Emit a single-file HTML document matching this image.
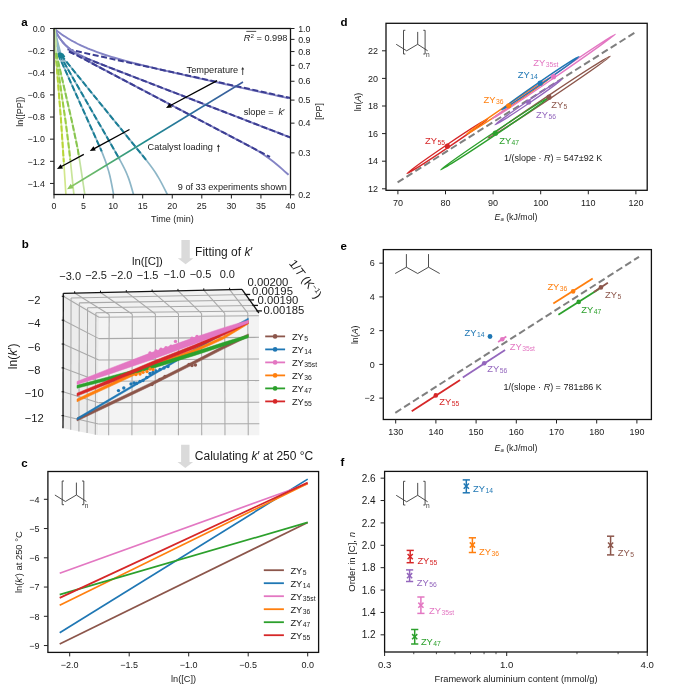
<!DOCTYPE html>
<html><head><meta charset="utf-8"><style>
html,body{margin:0;padding:0;background:#fff;}
svg{display:block;font-family:"Liberation Sans", sans-serif;will-change:transform;}
</style></head><body>
<svg width="685" height="684" viewBox="0 0 685 684">
<rect width="685" height="684" fill="#fff"/>
<text x="21.30" y="25.60" font-size="11.5" text-anchor="start" fill="#000" font-weight="bold" >a</text>
<path d="M54.50,29.00 C54.83,29.26 55.83,30.06 56.50,30.58 C57.17,31.10 57.83,31.60 58.50,32.09 C59.17,32.59 59.83,33.07 60.50,33.55 C61.17,34.02 61.83,34.48 62.50,34.94 C63.17,35.39 63.83,35.84 64.50,36.27 C65.17,36.71 65.83,37.13 66.50,37.55 C67.17,37.97 67.83,38.38 68.50,38.78 C69.17,39.18 69.83,39.58 70.50,39.96 C71.17,40.35 71.83,40.72 72.50,41.09 C73.17,41.46 73.83,41.83 74.50,42.18 C75.17,42.54 75.83,42.89 76.50,43.23 C77.17,43.57 77.83,43.91 78.50,44.24 C79.17,44.57 79.83,44.89 80.50,45.21 C81.17,45.52 81.83,45.84 82.50,46.14 C83.17,46.45 83.83,46.75 84.50,47.05 C85.17,47.34 85.83,47.63 86.50,47.92 C87.17,48.20 87.83,48.48 88.50,48.76 C89.17,49.04 89.17,49.06 90.50,49.57 C91.83,50.09 94.50,51.14 96.50,51.87 C98.50,52.61 100.50,53.31 102.50,53.98 C104.50,54.66 106.50,55.31 108.50,55.94 C110.50,56.57 112.50,57.18 114.50,57.77 C116.50,58.36 118.50,58.94 120.50,59.50 C122.50,60.06 124.50,60.61 126.50,61.15 C128.50,61.68 130.50,62.21 132.50,62.73 C134.50,63.25 136.50,63.75 138.50,64.26 C140.50,64.76 142.50,65.25 144.50,65.75 C146.50,66.24 148.50,66.72 150.50,67.20 C152.50,67.68 154.50,68.16 156.50,68.63 C158.50,69.10 160.50,69.57 162.50,70.04 C164.50,70.50 166.50,70.97 168.50,71.43 C170.50,71.89 172.50,72.35 174.50,72.81 C176.50,73.26 178.50,73.72 180.50,74.17 C182.50,74.63 184.50,75.08 186.50,75.53 C188.50,75.99 190.50,76.44 192.50,76.89 C194.50,77.34 196.50,77.79 198.50,78.24 C200.50,78.69 202.50,79.13 204.50,79.58 C206.50,80.03 208.50,80.48 210.50,80.92 C212.50,81.37 214.50,81.82 216.50,82.26 C218.50,82.71 220.50,83.15 222.50,83.60 C224.50,84.05 226.50,84.49 228.50,84.94 C230.50,85.38 232.50,85.83 234.50,86.27 C236.50,86.72 238.50,87.16 240.50,87.61 C242.50,88.05 244.50,88.49 246.50,88.94 C248.50,89.38 250.50,89.83 252.50,90.27 C254.50,90.72 256.50,91.16 258.50,91.60 C260.50,92.05 262.50,92.49 264.50,92.94 C266.50,93.38 268.50,93.82 270.50,94.27 C272.50,94.71 274.50,95.16 276.50,95.60 C278.50,96.04 280.50,96.49 282.50,96.93 C284.50,97.38 287.50,98.04 288.50,98.26" stroke="#8484c5" stroke-width="1.9" fill="none" />
<path d="M67.5,49.20 L290.5,98.00" stroke="#3b3d92" stroke-width="2.0" fill="none" stroke-dasharray="6,2.6"/>
<path d="M54.50,29.00 C54.83,29.66 55.83,31.75 56.50,32.98 C57.17,34.21 57.83,35.33 58.50,36.39 C59.17,37.44 59.83,38.40 60.50,39.31 C61.17,40.22 61.83,41.05 62.50,41.84 C63.17,42.63 63.83,43.36 64.50,44.05 C65.17,44.74 65.83,45.38 66.50,45.99 C67.17,46.60 67.83,47.16 68.50,47.71 C69.17,48.25 69.83,48.76 70.50,49.24 C71.17,49.73 71.83,50.19 72.50,50.64 C73.17,51.08 73.83,51.50 74.50,51.91 C75.17,52.32 75.83,52.71 76.50,53.09 C77.17,53.47 77.83,53.83 78.50,54.19 C79.17,54.55 79.83,54.89 80.50,55.23 C81.17,55.56 81.83,55.89 82.50,56.21 C83.17,56.53 83.83,56.84 84.50,57.15 C85.17,57.46 85.83,57.76 86.50,58.06 C87.17,58.36 87.83,58.66 88.50,58.95 C89.17,59.24 89.17,59.25 90.50,59.81 C91.83,60.37 94.50,61.48 96.50,62.30 C98.50,63.12 100.50,63.91 102.50,64.71 C104.50,65.50 106.50,66.29 108.50,67.07 C110.50,67.86 112.50,68.64 114.50,69.42 C116.50,70.20 118.50,70.98 120.50,71.75 C122.50,72.53 124.50,73.30 126.50,74.08 C128.50,74.86 130.50,75.63 132.50,76.40 C134.50,77.18 136.50,77.95 138.50,78.73 C140.50,79.50 142.50,80.28 144.50,81.05 C146.50,81.82 148.50,82.60 150.50,83.37 C152.50,84.15 154.50,84.92 156.50,85.70 C158.50,86.47 160.50,87.24 162.50,88.02 C164.50,88.79 166.50,89.57 168.50,90.34 C170.50,91.11 172.50,91.89 174.50,92.66 C176.50,93.44 178.50,94.21 180.50,94.98 C182.50,95.76 184.50,96.53 186.50,97.31 C188.50,98.08 190.50,98.85 192.50,99.63 C194.50,100.40 196.50,101.18 198.50,101.95 C200.50,102.72 202.50,103.50 204.50,104.27 C206.50,105.05 208.50,105.82 210.50,106.59 C212.50,107.37 214.50,108.14 216.50,108.92 C218.50,109.69 220.50,110.46 222.50,111.24 C224.50,112.01 226.50,112.79 228.50,113.56 C230.50,114.33 232.50,115.11 234.50,115.88 C236.50,116.66 238.50,117.43 240.50,118.20 C242.50,118.98 244.50,119.75 246.50,120.53 C248.50,121.30 250.50,122.07 252.50,122.85 C254.50,123.62 256.50,124.40 258.50,125.17 C260.50,125.94 262.50,126.72 264.50,127.49 C266.50,128.27 268.50,129.04 270.50,129.81 C272.50,130.59 274.50,131.36 276.50,132.14 C278.50,132.91 280.50,133.68 282.50,134.46 C284.50,135.23 287.50,136.39 288.50,136.78" stroke="#8484c5" stroke-width="1.9" fill="none" />
<path d="M69.0,51.83 L290.5,137.55" stroke="#3b3d92" stroke-width="2.0" fill="none" stroke-dasharray="6,2.6"/>
<path d="M54.50,29.00 C54.83,29.65 55.83,31.68 56.50,32.89 C57.17,34.10 57.83,35.22 58.50,36.27 C59.17,37.33 59.83,38.30 60.50,39.22 C61.17,40.15 61.83,41.00 62.50,41.81 C63.17,42.63 63.83,43.38 64.50,44.11 C65.17,44.83 65.83,45.50 66.50,46.15 C67.17,46.80 67.83,47.41 68.50,48.00 C69.17,48.59 69.83,49.14 70.50,49.68 C71.17,50.22 71.83,50.73 72.50,51.24 C73.17,51.74 73.83,52.21 74.50,52.68 C75.17,53.15 75.83,53.61 76.50,54.05 C77.17,54.49 77.83,54.92 78.50,55.35 C79.17,55.77 79.83,56.19 80.50,56.59 C81.17,57.00 81.83,57.40 82.50,57.80 C83.17,58.19 83.83,58.58 84.50,58.97 C85.17,59.35 85.83,59.74 86.50,60.11 C87.17,60.49 87.83,60.87 88.50,61.24 C89.17,61.61 89.17,61.62 90.50,62.35 C91.83,63.08 94.50,64.53 96.50,65.61 C98.50,66.69 100.50,67.75 102.50,68.81 C104.50,69.88 106.50,70.93 108.50,71.99 C110.50,73.05 112.50,74.10 114.50,75.16 C116.50,76.21 118.50,77.27 120.50,78.32 C122.50,79.37 124.50,80.42 126.50,81.48 C128.50,82.53 130.50,83.58 132.50,84.63 C134.50,85.69 136.50,86.74 138.50,87.79 C140.50,88.84 142.50,89.89 144.50,90.95 C146.50,92.00 148.50,93.05 150.50,94.10 C152.50,95.15 154.50,96.21 156.50,97.26 C158.50,98.31 160.50,99.36 162.50,100.41 C164.50,101.47 166.50,102.52 168.50,103.57 C170.50,104.62 172.50,105.67 174.50,106.73 C176.50,107.78 178.50,108.83 180.50,109.88 C182.50,110.93 184.50,111.99 186.50,113.04 C188.50,114.09 190.50,115.14 192.50,116.19 C194.50,117.25 196.50,118.30 198.50,119.35 C200.50,120.40 202.50,121.45 204.50,122.51 C206.50,123.56 208.50,124.61 210.50,125.66 C212.50,126.71 214.50,127.77 216.50,128.82 C218.50,129.87 220.50,130.92 222.50,131.97 C224.50,133.03 226.50,134.08 228.50,135.13 C230.50,136.18 232.50,137.23 234.50,138.29 C236.50,139.34 238.50,140.39 240.50,141.44 C242.50,142.49 244.50,143.54 246.50,144.60 C248.50,145.66 250.50,146.67 252.50,147.79 C254.50,148.91 256.50,150.07 258.50,151.31 C260.50,152.55 262.50,153.85 264.50,155.22 C266.50,156.59 268.50,158.03 270.50,159.53 C272.50,161.04 274.50,162.61 276.50,164.24 C278.50,165.88 280.50,167.58 282.50,169.34 C284.50,171.11 287.50,173.93 288.50,174.84" stroke="#8484c5" stroke-width="1.9" fill="none" />
<path d="M69.0,51.23 L270.0,156.96" stroke="#3b3d92" stroke-width="2.0" fill="none" stroke-dasharray="6,2.6"/>
<path d="M54.50,29.00 C55.25,33.50 57.69,50.21 59.00,56.00 C60.31,61.79 58.89,55.96 62.37,63.74 C65.84,71.52 73.29,88.09 79.85,102.70 C86.41,117.31 96.82,139.69 101.70,151.40 C106.58,163.11 107.17,165.77 109.15,172.95 C111.13,180.13 112.86,190.91 113.60,194.50" stroke="#8db6c7" stroke-width="1.7" fill="none" />
<path d="M58,54 L101.7,151.4" stroke="#1a7e96" stroke-width="2.0" fill="none" stroke-dasharray="6,2.6"/>
<path d="M54.50,29.00 C55.50,33.58 58.66,50.50 60.50,56.50 C62.34,62.50 60.67,56.58 65.51,64.98 C70.35,73.38 80.53,91.18 89.55,106.90 C98.56,122.62 113.18,147.63 119.60,159.30 C126.02,170.97 125.73,171.03 128.05,176.90 C130.37,182.77 132.59,191.57 133.50,194.50" stroke="#8db6c7" stroke-width="1.7" fill="none" />
<path d="M59.5,54.5 L119.6,159.3" stroke="#1a7e96" stroke-width="2.0" fill="none" stroke-dasharray="6,2.6"/>
<path d="M54.50,29.00 C55.75,33.67 59.49,50.91 62.00,57.00 C64.51,63.09 62.59,57.09 69.54,65.53 C76.49,73.97 90.89,91.86 103.70,107.65 C116.51,123.45 137.29,148.68 146.40,160.30 C155.51,171.93 154.87,171.70 158.35,177.40 C161.83,183.10 165.81,191.65 167.30,194.50" stroke="#8db6c7" stroke-width="1.7" fill="none" />
<path d="M61,55 L146.4,160.3" stroke="#1a7e96" stroke-width="2.0" fill="none" stroke-dasharray="6,2.6"/>
<polygon points="57.30,53.60 59.80,52.20 63.20,53.40 65.30,56.60 63.00,58.60 59.20,57.80" fill="#177f92" stroke="none" stroke-width="0" />
<path d="M54.50,29.00 C54.68,31.50 55.42,40.17 55.60,44.00 C55.78,47.83 54.70,39.33 55.60,52.00 C56.50,64.67 59.77,103.67 61.00,120.00 C62.23,136.33 62.18,137.58 63.00,150.00 C63.82,162.42 65.42,187.08 65.90,194.50" stroke="#d2e78c" stroke-width="1.7" fill="none" />
<path d="M55.6,52 L61,120 L63,150 L63.78,162.01" stroke="#b8d536" stroke-width="2.0" fill="none" stroke-dasharray="6,2.2"/>
<path d="M54.50,29.00 C54.68,31.67 55.42,41.00 55.60,45.00 C55.78,49.00 53.97,40.50 55.60,53.00 C57.23,65.50 63.13,103.83 65.40,120.00 C67.67,136.17 67.78,137.58 69.20,150.00 C70.62,162.42 73.12,187.08 73.90,194.50" stroke="#c9e59a" stroke-width="1.7" fill="none" />
<path d="M55.6,53 L65.4,120 L69.2,150 L70.28,160.24" stroke="#9acd44" stroke-width="2.0" fill="none" stroke-dasharray="6,2.2"/>
<path d="M54.50,29.00 C54.78,31.67 55.92,41.00 56.20,45.00 C56.48,49.00 53.63,40.50 56.20,53.00 C58.77,65.50 67.98,103.83 71.60,120.00 C75.22,136.17 75.70,137.58 77.90,150.00 C80.10,162.42 83.65,187.08 84.80,194.50" stroke="#c2e2a0" stroke-width="1.7" fill="none" />
<path d="M56.2,53 L71.6,120 L77.9,150 L78.73,155.34" stroke="#88c54f" stroke-width="2.0" fill="none" stroke-dasharray="6,2.2"/>
<defs><linearGradient id="cg" gradientUnits="userSpaceOnUse" x1="243" y1="82" x2="67" y2="189"><stop offset="0" stop-color="#3d5a9b"/><stop offset="0.3" stop-color="#2a6f9e"/><stop offset="0.55" stop-color="#1f8a8f"/><stop offset="0.78" stop-color="#52ad6e"/><stop offset="1" stop-color="#92cb62"/></linearGradient></defs>
<line x1="243.00" y1="82.00" x2="70.50" y2="187.00" stroke="url(#cg)" stroke-width="1.5" />
<polygon points="67.00,189.20 70.77,183.86 73.48,188.30" fill="#8bc75b" stroke="none" stroke-width="0" />
<line x1="217.10" y1="80.60" x2="169.53" y2="106.02" stroke="#000" stroke-width="1.3" />
<polygon points="166.00,107.90 169.72,103.19 171.98,107.43" fill="#000" stroke="none" stroke-width="0" />
<line x1="129.50" y1="129.50" x2="93.32" y2="149.10" stroke="#000" stroke-width="1.3" />
<polygon points="89.80,151.00 93.49,146.27 95.78,150.49" fill="#000" stroke="none" stroke-width="0" />
<line x1="83.80" y1="154.40" x2="60.52" y2="167.00" stroke="#000" stroke-width="1.3" />
<polygon points="57.00,168.90 60.70,164.17 62.98,168.39" fill="#000" stroke="none" stroke-width="0" />
<rect x="54.0" y="28.5" width="236.5" height="166.0" fill="none" stroke="#111" stroke-width="1.3"/>
<line x1="50.00" y1="28.50" x2="54.00" y2="28.50" stroke="#222" stroke-width="1" />
<text x="45.00" y="31.70" font-size="8.9" text-anchor="end" fill="#1a1a1a" font-weight="normal" >0.0</text>
<line x1="50.00" y1="50.63" x2="54.00" y2="50.63" stroke="#222" stroke-width="1" />
<text x="45.00" y="53.83" font-size="8.9" text-anchor="end" fill="#1a1a1a" font-weight="normal" >−0.2</text>
<line x1="50.00" y1="72.77" x2="54.00" y2="72.77" stroke="#222" stroke-width="1" />
<text x="45.00" y="75.97" font-size="8.9" text-anchor="end" fill="#1a1a1a" font-weight="normal" >−0.4</text>
<line x1="50.00" y1="94.90" x2="54.00" y2="94.90" stroke="#222" stroke-width="1" />
<text x="45.00" y="98.10" font-size="8.9" text-anchor="end" fill="#1a1a1a" font-weight="normal" >−0.6</text>
<line x1="50.00" y1="117.04" x2="54.00" y2="117.04" stroke="#222" stroke-width="1" />
<text x="45.00" y="120.24" font-size="8.9" text-anchor="end" fill="#1a1a1a" font-weight="normal" >−0.8</text>
<line x1="50.00" y1="139.17" x2="54.00" y2="139.17" stroke="#222" stroke-width="1" />
<text x="45.00" y="142.37" font-size="8.9" text-anchor="end" fill="#1a1a1a" font-weight="normal" >−1.0</text>
<line x1="50.00" y1="161.30" x2="54.00" y2="161.30" stroke="#222" stroke-width="1" />
<text x="45.00" y="164.50" font-size="8.9" text-anchor="end" fill="#1a1a1a" font-weight="normal" >−1.2</text>
<line x1="50.00" y1="183.44" x2="54.00" y2="183.44" stroke="#222" stroke-width="1" />
<text x="45.00" y="186.64" font-size="8.9" text-anchor="end" fill="#1a1a1a" font-weight="normal" >−1.4</text>
<line x1="54.00" y1="194.50" x2="54.00" y2="198.50" stroke="#222" stroke-width="1" />
<text x="54.00" y="209.40" font-size="8.9" text-anchor="middle" fill="#1a1a1a" font-weight="normal" >0</text>
<line x1="83.56" y1="194.50" x2="83.56" y2="198.50" stroke="#222" stroke-width="1" />
<text x="83.56" y="209.40" font-size="8.9" text-anchor="middle" fill="#1a1a1a" font-weight="normal" >5</text>
<line x1="113.12" y1="194.50" x2="113.12" y2="198.50" stroke="#222" stroke-width="1" />
<text x="113.12" y="209.40" font-size="8.9" text-anchor="middle" fill="#1a1a1a" font-weight="normal" >10</text>
<line x1="142.69" y1="194.50" x2="142.69" y2="198.50" stroke="#222" stroke-width="1" />
<text x="142.69" y="209.40" font-size="8.9" text-anchor="middle" fill="#1a1a1a" font-weight="normal" >15</text>
<line x1="172.25" y1="194.50" x2="172.25" y2="198.50" stroke="#222" stroke-width="1" />
<text x="172.25" y="209.40" font-size="8.9" text-anchor="middle" fill="#1a1a1a" font-weight="normal" >20</text>
<line x1="201.81" y1="194.50" x2="201.81" y2="198.50" stroke="#222" stroke-width="1" />
<text x="201.81" y="209.40" font-size="8.9" text-anchor="middle" fill="#1a1a1a" font-weight="normal" >25</text>
<line x1="231.38" y1="194.50" x2="231.38" y2="198.50" stroke="#222" stroke-width="1" />
<text x="231.38" y="209.40" font-size="8.9" text-anchor="middle" fill="#1a1a1a" font-weight="normal" >30</text>
<line x1="260.94" y1="194.50" x2="260.94" y2="198.50" stroke="#222" stroke-width="1" />
<text x="260.94" y="209.40" font-size="8.9" text-anchor="middle" fill="#1a1a1a" font-weight="normal" >35</text>
<line x1="290.50" y1="194.50" x2="290.50" y2="198.50" stroke="#222" stroke-width="1" />
<text x="290.50" y="209.40" font-size="8.9" text-anchor="middle" fill="#1a1a1a" font-weight="normal" >40</text>
<line x1="290.50" y1="28.50" x2="294.50" y2="28.50" stroke="#222" stroke-width="1" />
<text x="298.20" y="31.70" font-size="8.9" text-anchor="start" fill="#1a1a1a" font-weight="normal" >1.0</text>
<line x1="290.50" y1="39.38" x2="294.50" y2="39.38" stroke="#222" stroke-width="1" />
<text x="298.20" y="42.58" font-size="8.9" text-anchor="start" fill="#1a1a1a" font-weight="normal" >0.9</text>
<line x1="290.50" y1="51.55" x2="294.50" y2="51.55" stroke="#222" stroke-width="1" />
<text x="298.20" y="54.75" font-size="8.9" text-anchor="start" fill="#1a1a1a" font-weight="normal" >0.8</text>
<line x1="290.50" y1="65.34" x2="294.50" y2="65.34" stroke="#222" stroke-width="1" />
<text x="298.20" y="68.54" font-size="8.9" text-anchor="start" fill="#1a1a1a" font-weight="normal" >0.7</text>
<line x1="290.50" y1="81.27" x2="294.50" y2="81.27" stroke="#222" stroke-width="1" />
<text x="298.20" y="84.47" font-size="8.9" text-anchor="start" fill="#1a1a1a" font-weight="normal" >0.6</text>
<line x1="290.50" y1="100.10" x2="294.50" y2="100.10" stroke="#222" stroke-width="1" />
<text x="298.20" y="103.30" font-size="8.9" text-anchor="start" fill="#1a1a1a" font-weight="normal" >0.5</text>
<line x1="290.50" y1="123.15" x2="294.50" y2="123.15" stroke="#222" stroke-width="1" />
<text x="298.20" y="126.35" font-size="8.9" text-anchor="start" fill="#1a1a1a" font-weight="normal" >0.4</text>
<line x1="290.50" y1="152.87" x2="294.50" y2="152.87" stroke="#222" stroke-width="1" />
<text x="298.20" y="156.07" font-size="8.9" text-anchor="start" fill="#1a1a1a" font-weight="normal" >0.3</text>
<line x1="290.50" y1="194.75" x2="294.50" y2="194.75" stroke="#222" stroke-width="1" />
<text x="298.20" y="197.95" font-size="8.9" text-anchor="start" fill="#1a1a1a" font-weight="normal" >0.2</text>
<text x="172.40" y="221.50" font-size="9" text-anchor="middle" fill="#1a1a1a" font-weight="normal" >Time (min)</text>
<text x="0.00" y="0.00" font-size="9" text-anchor="middle" fill="#1a1a1a" font-weight="normal" transform="translate(23.2,111.7) rotate(-90)">ln([PP])</text>
<text x="0.00" y="0.00" font-size="9" text-anchor="middle" fill="#1a1a1a" font-weight="normal" transform="translate(321.9,111.4) rotate(-90)">[PP]</text>
<text x="186.60" y="73.20" font-size="9.2" text-anchor="start" fill="#1a1a1a" font-weight="normal" >Temperature</text>
<line x1="242.70" y1="68.50" x2="242.70" y2="75.00" stroke="#333" stroke-width="0.85" />
<polygon points="242.70,67.00 241.20,69.60 244.20,69.60" fill="#333" stroke="none" stroke-width="0" />
<text x="243.70" y="115.00" font-size="9.2" text-anchor="start" fill="#1a1a1a" font-weight="normal" >slope = </text>
<text x="278.50" y="115.00" font-size="9.2" text-anchor="start" fill="#1a1a1a" font-weight="normal" ><tspan font-style="italic">k</tspan>′</text>
<text x="147.60" y="150.40" font-size="9.2" text-anchor="start" fill="#1a1a1a" font-weight="normal" >Catalyst loading</text>
<line x1="218.40" y1="145.80" x2="218.40" y2="151.80" stroke="#333" stroke-width="0.85" />
<polygon points="218.40,144.30 216.90,146.90 219.90,146.90" fill="#333" stroke="none" stroke-width="0" />
<text x="287.40" y="40.70" font-size="9.2" text-anchor="end" fill="#1a1a1a" font-weight="normal" ><tspan font-style="italic">R</tspan><tspan font-size="6.2" dy="-2.6">2</tspan><tspan dy="2.6"> = 0.998</tspan></text>
<line x1="246.30" y1="31.40" x2="256.20" y2="31.40" stroke="#222" stroke-width="0.8" />
<text x="286.90" y="190.00" font-size="9.15" text-anchor="end" fill="#1a1a1a" font-weight="normal" >9 of 33 experiments shown</text>
<text x="21.80" y="247.80" font-size="11.5" text-anchor="start" fill="#000" font-weight="bold" >b</text>
<polygon points="63.30,293.30 99.00,314.60 98.40,435.30 63.00,428.30" fill="#ececec" stroke="none" stroke-width="0" />
<polygon points="63.30,293.30 242.00,289.30 258.90,313.00 99.00,314.60" fill="#f1f1f1" stroke="none" stroke-width="0" />
<polygon points="99.00,314.60 258.90,313.00 259.40,435.30 98.40,435.30" fill="#f3f3f3" stroke="none" stroke-width="0" />
<line x1="109.17" y1="314.50" x2="108.64" y2="435.30" stroke="#a9a9a9" stroke-width="1.05" />
<line x1="132.27" y1="314.27" x2="131.90" y2="435.30" stroke="#a9a9a9" stroke-width="1.05" />
<line x1="155.38" y1="314.04" x2="155.17" y2="435.30" stroke="#a9a9a9" stroke-width="1.05" />
<line x1="178.49" y1="313.80" x2="178.43" y2="435.30" stroke="#a9a9a9" stroke-width="1.05" />
<line x1="201.59" y1="313.57" x2="201.70" y2="435.30" stroke="#a9a9a9" stroke-width="1.05" />
<line x1="224.70" y1="313.34" x2="224.97" y2="435.30" stroke="#a9a9a9" stroke-width="1.05" />
<line x1="247.81" y1="313.11" x2="248.23" y2="435.30" stroke="#a9a9a9" stroke-width="1.05" />
<line x1="98.99" y1="317.27" x2="258.91" y2="315.70" stroke="#a9a9a9" stroke-width="1.05" />
<line x1="98.88" y1="338.61" x2="259.00" y2="337.33" stroke="#a9a9a9" stroke-width="1.05" />
<line x1="98.77" y1="359.96" x2="259.09" y2="358.96" stroke="#a9a9a9" stroke-width="1.05" />
<line x1="98.67" y1="381.30" x2="259.18" y2="380.58" stroke="#a9a9a9" stroke-width="1.05" />
<line x1="98.56" y1="402.64" x2="259.26" y2="402.21" stroke="#a9a9a9" stroke-width="1.05" />
<line x1="98.46" y1="423.99" x2="259.35" y2="423.84" stroke="#a9a9a9" stroke-width="1.05" />
<line x1="71.07" y1="297.93" x2="70.70" y2="429.82" stroke="#a9a9a9" stroke-width="1.05" />
<line x1="79.33" y1="302.86" x2="78.89" y2="431.44" stroke="#a9a9a9" stroke-width="1.05" />
<line x1="87.58" y1="307.78" x2="87.07" y2="433.06" stroke="#a9a9a9" stroke-width="1.05" />
<line x1="95.86" y1="312.73" x2="95.28" y2="434.68" stroke="#a9a9a9" stroke-width="1.05" />
<line x1="63.29" y1="296.28" x2="98.99" y2="317.27" stroke="#a9a9a9" stroke-width="1.05" />
<line x1="63.24" y1="320.16" x2="98.88" y2="338.61" stroke="#a9a9a9" stroke-width="1.05" />
<line x1="63.19" y1="344.03" x2="98.77" y2="359.96" stroke="#a9a9a9" stroke-width="1.05" />
<line x1="63.13" y1="367.90" x2="98.67" y2="381.30" stroke="#a9a9a9" stroke-width="1.05" />
<line x1="63.08" y1="391.77" x2="98.56" y2="402.64" stroke="#a9a9a9" stroke-width="1.05" />
<line x1="63.03" y1="415.65" x2="98.46" y2="423.99" stroke="#a9a9a9" stroke-width="1.05" />
<line x1="74.66" y1="293.05" x2="109.17" y2="314.50" stroke="#a9a9a9" stroke-width="1.05" />
<line x1="100.49" y1="292.47" x2="132.27" y2="314.27" stroke="#a9a9a9" stroke-width="1.05" />
<line x1="126.31" y1="291.89" x2="155.38" y2="314.04" stroke="#a9a9a9" stroke-width="1.05" />
<line x1="152.13" y1="291.31" x2="178.49" y2="313.80" stroke="#a9a9a9" stroke-width="1.05" />
<line x1="177.96" y1="290.73" x2="201.59" y2="313.57" stroke="#a9a9a9" stroke-width="1.05" />
<line x1="203.78" y1="290.16" x2="224.70" y2="313.34" stroke="#a9a9a9" stroke-width="1.05" />
<line x1="229.60" y1="289.58" x2="247.81" y2="313.11" stroke="#a9a9a9" stroke-width="1.05" />
<line x1="71.07" y1="297.93" x2="245.68" y2="294.46" stroke="#a9a9a9" stroke-width="1.05" />
<line x1="79.33" y1="302.86" x2="249.59" y2="299.94" stroke="#a9a9a9" stroke-width="1.05" />
<line x1="87.58" y1="307.78" x2="253.49" y2="305.42" stroke="#a9a9a9" stroke-width="1.05" />
<line x1="95.86" y1="312.73" x2="257.41" y2="310.91" stroke="#a9a9a9" stroke-width="1.05" />
<polygon points="77.00,418.00 110.00,402.30 150.00,383.20 194.00,361.10 223.00,346.10 248.30,333.90 248.30,336.80 223.00,349.10 194.00,364.10 150.00,386.20 110.00,405.30 77.00,421.00" fill="#8c564b" stroke="#8c564b" stroke-width="0.5" />
<polygon points="77.00,418.00 110.00,398.60 150.00,375.00 194.00,349.20 223.00,332.10 248.30,318.20 248.30,320.20 223.00,334.10 194.00,351.20 150.00,377.00 110.00,400.60 77.00,420.00" fill="#1f77b4" stroke="#1f77b4" stroke-width="0.5" />
<polygon points="77.00,399.00 110.00,383.40 150.00,365.00 194.00,349.50 223.00,336.50 248.30,322.30 248.30,324.00 223.00,339.30 194.00,352.50 150.00,368.00 110.00,386.60 77.00,401.80" fill="#ff7f0e" stroke="#ff7f0e" stroke-width="0.5" />
<polygon points="77.00,385.30 110.00,376.50 150.00,365.60 194.00,352.10 223.00,342.60 248.30,334.80 248.30,337.70 223.00,346.20 194.00,355.70 150.00,369.20 110.00,379.80 77.00,388.20" fill="#2ca02c" stroke="#2ca02c" stroke-width="0.5" />
<polygon points="77.00,393.20 110.00,379.50 150.00,362.50 194.00,345.00 223.00,332.50 248.30,320.80 248.30,323.40 223.00,335.50 194.00,348.70 150.00,366.00 110.00,383.00 77.00,396.10" fill="#d62728" stroke="#d62728" stroke-width="0.5" />
<polygon points="77.00,381.50 110.00,368.40 150.00,353.10 194.00,337.60 223.00,327.90 248.30,320.20 248.30,323.10 223.00,333.00 194.00,344.20 150.00,360.30 110.00,373.90 77.00,384.50" fill="#e377c2" stroke="#e377c2" stroke-width="0.5" />
<circle cx="118.50" cy="390.60" r="1.7" fill="#1f77b4" />
<circle cx="123.80" cy="388.00" r="1.7" fill="#1f77b4" />
<circle cx="131.00" cy="384.00" r="1.7" fill="#1f77b4" />
<circle cx="134.00" cy="383.00" r="1.7" fill="#1f77b4" />
<circle cx="136.50" cy="383.40" r="1.7" fill="#1f77b4" />
<circle cx="140.00" cy="381.50" r="1.7" fill="#1f77b4" />
<circle cx="143.00" cy="380.50" r="1.7" fill="#1f77b4" />
<circle cx="146.80" cy="377.50" r="1.7" fill="#1f77b4" />
<circle cx="150.00" cy="373.50" r="1.7" fill="#1f77b4" />
<circle cx="153.00" cy="372.50" r="1.7" fill="#1f77b4" />
<circle cx="156.00" cy="371.00" r="1.7" fill="#1f77b4" />
<circle cx="160.00" cy="369.50" r="1.7" fill="#1f77b4" />
<circle cx="164.00" cy="368.00" r="1.7" fill="#1f77b4" />
<circle cx="168.00" cy="366.50" r="1.7" fill="#1f77b4" />
<circle cx="136.00" cy="374.50" r="1.7" fill="#ff7f0e" />
<circle cx="140.00" cy="374.00" r="1.7" fill="#ff7f0e" />
<circle cx="143.00" cy="372.20" r="1.7" fill="#ff7f0e" />
<circle cx="147.00" cy="371.50" r="1.7" fill="#ff7f0e" />
<circle cx="150.00" cy="369.00" r="1.7" fill="#ff7f0e" />
<circle cx="153.00" cy="369.50" r="1.7" fill="#ff7f0e" />
<circle cx="152.00" cy="384.50" r="1.7" fill="#8c564b" />
<circle cx="160.00" cy="379.40" r="1.7" fill="#8c564b" />
<circle cx="165.00" cy="376.50" r="1.7" fill="#8c564b" />
<circle cx="189.00" cy="364.50" r="1.7" fill="#8c564b" />
<circle cx="192.00" cy="365.50" r="1.7" fill="#8c564b" />
<circle cx="195.40" cy="365.00" r="1.7" fill="#8c564b" />
<circle cx="150.00" cy="353.00" r="1.7" fill="#e377c2" />
<circle cx="156.00" cy="351.00" r="1.7" fill="#e377c2" />
<circle cx="161.00" cy="349.30" r="1.7" fill="#e377c2" />
<circle cx="166.00" cy="347.70" r="1.7" fill="#e377c2" />
<circle cx="171.00" cy="346.30" r="1.7" fill="#e377c2" />
<circle cx="175.50" cy="341.40" r="1.7" fill="#e377c2" />
<circle cx="186.00" cy="343.00" r="1.7" fill="#e377c2" />
<circle cx="192.00" cy="338.20" r="1.7" fill="#e377c2" />
<circle cx="197.00" cy="336.40" r="1.7" fill="#e377c2" />
<line x1="63.30" y1="293.30" x2="242.00" y2="289.30" stroke="#111" stroke-width="1.3" />
<line x1="242.00" y1="289.30" x2="258.90" y2="313.00" stroke="#111" stroke-width="1.3" />
<line x1="63.30" y1="293.30" x2="63.00" y2="428.30" stroke="#111" stroke-width="1.3" />
<line x1="74.66" y1="293.05" x2="74.66" y2="291.25" stroke="#111" stroke-width="1" />
<line x1="100.49" y1="292.47" x2="100.49" y2="290.67" stroke="#111" stroke-width="1" />
<line x1="126.31" y1="291.89" x2="126.31" y2="290.09" stroke="#111" stroke-width="1" />
<line x1="152.13" y1="291.31" x2="152.13" y2="289.51" stroke="#111" stroke-width="1" />
<line x1="177.96" y1="290.73" x2="177.96" y2="288.93" stroke="#111" stroke-width="1" />
<line x1="203.78" y1="290.16" x2="203.78" y2="288.36" stroke="#111" stroke-width="1" />
<line x1="229.60" y1="289.58" x2="229.60" y2="287.78" stroke="#111" stroke-width="1" />
<line x1="244.68" y1="294.46" x2="250.18" y2="294.46" stroke="#111" stroke-width="1.3" />
<line x1="248.59" y1="299.94" x2="254.09" y2="299.94" stroke="#111" stroke-width="1.3" />
<line x1="252.49" y1="305.42" x2="257.99" y2="305.42" stroke="#111" stroke-width="1.3" />
<line x1="256.41" y1="310.91" x2="261.91" y2="310.91" stroke="#111" stroke-width="1.3" />
<line x1="61.79" y1="296.28" x2="64.29" y2="296.28" stroke="#111" stroke-width="1" />
<line x1="61.74" y1="320.16" x2="64.24" y2="320.16" stroke="#111" stroke-width="1" />
<line x1="61.69" y1="344.03" x2="64.19" y2="344.03" stroke="#111" stroke-width="1" />
<line x1="61.63" y1="367.90" x2="64.13" y2="367.90" stroke="#111" stroke-width="1" />
<line x1="61.58" y1="391.77" x2="64.08" y2="391.77" stroke="#111" stroke-width="1" />
<line x1="61.53" y1="415.65" x2="64.03" y2="415.65" stroke="#111" stroke-width="1" />
<text x="70.20" y="279.50" font-size="11" text-anchor="middle" fill="#1a1a1a" font-weight="normal" >−3.0</text>
<text x="96.00" y="279.30" font-size="11" text-anchor="middle" fill="#1a1a1a" font-weight="normal" >−2.5</text>
<text x="121.60" y="279.00" font-size="11" text-anchor="middle" fill="#1a1a1a" font-weight="normal" >−2.0</text>
<text x="147.60" y="278.60" font-size="11" text-anchor="middle" fill="#1a1a1a" font-weight="normal" >−1.5</text>
<text x="174.40" y="278.40" font-size="11" text-anchor="middle" fill="#1a1a1a" font-weight="normal" >−1.0</text>
<text x="200.50" y="278.20" font-size="11" text-anchor="middle" fill="#1a1a1a" font-weight="normal" >−0.5</text>
<text x="227.30" y="278.00" font-size="11" text-anchor="middle" fill="#1a1a1a" font-weight="normal" >0.0</text>
<text x="147.40" y="264.50" font-size="11.4" text-anchor="middle" fill="#1a1a1a" font-weight="normal" >ln([C])</text>
<text x="34.20" y="303.80" font-size="11.2" text-anchor="middle" fill="#1a1a1a" font-weight="normal" >−2</text>
<text x="34.20" y="327.40" font-size="11.2" text-anchor="middle" fill="#1a1a1a" font-weight="normal" >−4</text>
<text x="34.20" y="351.00" font-size="11.2" text-anchor="middle" fill="#1a1a1a" font-weight="normal" >−6</text>
<text x="34.20" y="374.10" font-size="11.2" text-anchor="middle" fill="#1a1a1a" font-weight="normal" >−8</text>
<text x="34.20" y="397.10" font-size="11.2" text-anchor="middle" fill="#1a1a1a" font-weight="normal" >−10</text>
<text x="34.20" y="422.00" font-size="11.2" text-anchor="middle" fill="#1a1a1a" font-weight="normal" >−12</text>
<text x="0.00" y="0.00" font-size="12" text-anchor="middle" fill="#1a1a1a" font-weight="normal" transform="translate(16.9,356.4) rotate(-90)">ln(<tspan font-style="italic">k</tspan>′)</text>
<text x="247.50" y="285.50" font-size="11.3" text-anchor="start" fill="#1a1a1a" font-weight="normal" >0.00200</text>
<text x="252.10" y="295.40" font-size="11.3" text-anchor="start" fill="#1a1a1a" font-weight="normal" >0.00195</text>
<text x="257.50" y="303.80" font-size="11.3" text-anchor="start" fill="#1a1a1a" font-weight="normal" >0.00190</text>
<text x="263.40" y="314.30" font-size="11.3" text-anchor="start" fill="#1a1a1a" font-weight="normal" >0.00185</text>
<text x="0.00" y="0.00" font-size="12" text-anchor="middle" fill="#1a1a1a" font-weight="normal" transform="translate(302.2,281.5) rotate(52.5)">1/<tspan font-style="italic">T</tspan> (K<tspan font-size="7.5" dy="-4">−1</tspan><tspan dy="4">)</tspan></text>
<line x1="265.20" y1="336.40" x2="285.10" y2="336.40" stroke="#8c564b" stroke-width="1.8" />
<circle cx="275.10" cy="336.40" r="2.3" fill="#8c564b" />
<text x="291.90" y="339.80" font-size="9.4" fill="#222" text-anchor="start">ZY<tspan font-size="6.77" dx="0.4" dy="1.03">5</tspan></text>
<line x1="265.20" y1="349.40" x2="285.10" y2="349.40" stroke="#1f77b4" stroke-width="1.8" />
<circle cx="275.10" cy="349.40" r="2.3" fill="#1f77b4" />
<text x="291.90" y="352.80" font-size="9.4" fill="#222" text-anchor="start">ZY<tspan font-size="6.77" dx="0.4" dy="1.03">14</tspan></text>
<line x1="265.20" y1="362.40" x2="285.10" y2="362.40" stroke="#e377c2" stroke-width="1.8" />
<circle cx="275.10" cy="362.40" r="2.3" fill="#e377c2" />
<text x="291.90" y="365.80" font-size="9.4" fill="#222" text-anchor="start">ZY<tspan font-size="6.77" dx="0.4" dy="1.03">35st</tspan></text>
<line x1="265.20" y1="375.40" x2="285.10" y2="375.40" stroke="#ff7f0e" stroke-width="1.8" />
<circle cx="275.10" cy="375.40" r="2.3" fill="#ff7f0e" />
<text x="291.90" y="378.80" font-size="9.4" fill="#222" text-anchor="start">ZY<tspan font-size="6.77" dx="0.4" dy="1.03">36</tspan></text>
<line x1="265.20" y1="388.40" x2="285.10" y2="388.40" stroke="#2ca02c" stroke-width="1.8" />
<circle cx="275.10" cy="388.40" r="2.3" fill="#2ca02c" />
<text x="291.90" y="391.80" font-size="9.4" fill="#222" text-anchor="start">ZY<tspan font-size="6.77" dx="0.4" dy="1.03">47</tspan></text>
<line x1="265.20" y1="401.40" x2="285.10" y2="401.40" stroke="#d62728" stroke-width="1.8" />
<circle cx="275.10" cy="401.40" r="2.3" fill="#d62728" />
<text x="291.90" y="404.80" font-size="9.4" fill="#222" text-anchor="start">ZY<tspan font-size="6.77" dx="0.4" dy="1.03">55</tspan></text>
<polygon points="181.40,239.90 189.80,239.90 189.80,258.30 193.40,258.30 185.60,264.30 177.80,258.30 181.40,258.30" fill="#dadada" stroke="none" stroke-width="0" />
<text x="195.10" y="256.00" font-size="12" text-anchor="start" fill="#1a1a1a" font-weight="normal" >Fitting of <tspan font-style="italic">k</tspan>′</text>
<text x="21.30" y="466.60" font-size="11.5" text-anchor="start" fill="#000" font-weight="bold" >c</text>
<polygon points="181.10,444.80 189.50,444.80 189.50,462.00 193.10,462.00 185.30,468.00 177.50,462.00 181.10,462.00" fill="#dadada" stroke="none" stroke-width="0" />
<text x="194.80" y="460.30" font-size="12" text-anchor="start" fill="#1a1a1a" font-weight="normal" >Calulating <tspan font-style="italic">k</tspan>′ at 250 °C</text>
<line x1="59.70" y1="644.09" x2="307.70" y2="522.41" stroke="#8c564b" stroke-width="1.7" />
<line x1="59.70" y1="632.68" x2="307.70" y2="479.12" stroke="#1f77b4" stroke-width="1.7" />
<line x1="59.70" y1="573.30" x2="307.70" y2="483.80" stroke="#e377c2" stroke-width="1.7" />
<line x1="59.70" y1="605.19" x2="307.70" y2="483.50" stroke="#ff7f0e" stroke-width="1.7" />
<line x1="59.70" y1="594.65" x2="307.70" y2="522.41" stroke="#2ca02c" stroke-width="1.7" />
<line x1="59.70" y1="597.87" x2="307.70" y2="482.63" stroke="#d62728" stroke-width="1.7" />
<rect x="47.9" y="471.5" width="270.70000000000005" height="180.89999999999998" fill="none" stroke="#111" stroke-width="1.3"/>
<line x1="43.90" y1="499.30" x2="47.90" y2="499.30" stroke="#222" stroke-width="1" />
<text x="39.50" y="502.50" font-size="9.0" text-anchor="end" fill="#1a1a1a" font-weight="normal" >−4</text>
<line x1="43.90" y1="528.55" x2="47.90" y2="528.55" stroke="#222" stroke-width="1" />
<text x="39.50" y="531.75" font-size="9.0" text-anchor="end" fill="#1a1a1a" font-weight="normal" >−5</text>
<line x1="43.90" y1="557.80" x2="47.90" y2="557.80" stroke="#222" stroke-width="1" />
<text x="39.50" y="561.00" font-size="9.0" text-anchor="end" fill="#1a1a1a" font-weight="normal" >−6</text>
<line x1="43.90" y1="587.05" x2="47.90" y2="587.05" stroke="#222" stroke-width="1" />
<text x="39.50" y="590.25" font-size="9.0" text-anchor="end" fill="#1a1a1a" font-weight="normal" >−7</text>
<line x1="43.90" y1="616.30" x2="47.90" y2="616.30" stroke="#222" stroke-width="1" />
<text x="39.50" y="619.50" font-size="9.0" text-anchor="end" fill="#1a1a1a" font-weight="normal" >−8</text>
<line x1="43.90" y1="645.55" x2="47.90" y2="645.55" stroke="#222" stroke-width="1" />
<text x="39.50" y="648.75" font-size="9.0" text-anchor="end" fill="#1a1a1a" font-weight="normal" >−9</text>
<line x1="69.70" y1="652.40" x2="69.70" y2="656.40" stroke="#222" stroke-width="1" />
<text x="69.70" y="668.00" font-size="9.0" text-anchor="middle" fill="#1a1a1a" font-weight="normal" >−2.0</text>
<line x1="129.20" y1="652.40" x2="129.20" y2="656.40" stroke="#222" stroke-width="1" />
<text x="129.20" y="668.00" font-size="9.0" text-anchor="middle" fill="#1a1a1a" font-weight="normal" >−1.5</text>
<line x1="188.70" y1="652.40" x2="188.70" y2="656.40" stroke="#222" stroke-width="1" />
<text x="188.70" y="668.00" font-size="9.0" text-anchor="middle" fill="#1a1a1a" font-weight="normal" >−1.0</text>
<line x1="248.20" y1="652.40" x2="248.20" y2="656.40" stroke="#222" stroke-width="1" />
<text x="248.20" y="668.00" font-size="9.0" text-anchor="middle" fill="#1a1a1a" font-weight="normal" >−0.5</text>
<line x1="307.70" y1="652.40" x2="307.70" y2="656.40" stroke="#222" stroke-width="1" />
<text x="307.70" y="668.00" font-size="9.0" text-anchor="middle" fill="#1a1a1a" font-weight="normal" >0.0</text>
<text x="183.50" y="682.00" font-size="9.2" text-anchor="middle" fill="#1a1a1a" font-weight="normal" >ln([C])</text>
<text x="0.00" y="0.00" font-size="9.4" text-anchor="middle" fill="#1a1a1a" font-weight="normal" transform="translate(21.5,562.2) rotate(-90)">ln(<tspan font-style="italic">k</tspan>′) at 250 °C</text>
<line x1="263.80" y1="570.20" x2="283.90" y2="570.20" stroke="#8c564b" stroke-width="1.8" />
<text x="290.40" y="573.80" font-size="9.4" fill="#222" text-anchor="start">ZY<tspan font-size="6.77" dx="0.4" dy="1.03">5</tspan></text>
<line x1="263.80" y1="583.20" x2="283.90" y2="583.20" stroke="#1f77b4" stroke-width="1.8" />
<text x="290.40" y="586.80" font-size="9.4" fill="#222" text-anchor="start">ZY<tspan font-size="6.77" dx="0.4" dy="1.03">14</tspan></text>
<line x1="263.80" y1="596.20" x2="283.90" y2="596.20" stroke="#e377c2" stroke-width="1.8" />
<text x="290.40" y="599.80" font-size="9.4" fill="#222" text-anchor="start">ZY<tspan font-size="6.77" dx="0.4" dy="1.03">35st</tspan></text>
<line x1="263.80" y1="609.20" x2="283.90" y2="609.20" stroke="#ff7f0e" stroke-width="1.8" />
<text x="290.40" y="612.80" font-size="9.4" fill="#222" text-anchor="start">ZY<tspan font-size="6.77" dx="0.4" dy="1.03">36</tspan></text>
<line x1="263.80" y1="622.20" x2="283.90" y2="622.20" stroke="#2ca02c" stroke-width="1.8" />
<text x="290.40" y="625.80" font-size="9.4" fill="#222" text-anchor="start">ZY<tspan font-size="6.77" dx="0.4" dy="1.03">47</tspan></text>
<line x1="263.80" y1="635.20" x2="283.90" y2="635.20" stroke="#d62728" stroke-width="1.8" />
<text x="290.40" y="638.80" font-size="9.4" fill="#222" text-anchor="start">ZY<tspan font-size="6.77" dx="0.4" dy="1.03">55</tspan></text>
<polyline points="54.90,495.00 65.40,501.50 76.40,495.00 86.40,501.50" stroke="#3a3a3a" fill="none" stroke-width="0.9" />
<line x1="76.40" y1="495.00" x2="76.40" y2="482.60" stroke="#3a3a3a" stroke-width="0.9" />
<polyline points="64.00,481.00 62.20,481.00 62.20,504.70 64.00,504.70" stroke="#3a3a3a" fill="none" stroke-width="0.9" />
<polyline points="82.00,481.00 83.80,481.00 83.80,504.70 82.00,504.70" stroke="#3a3a3a" fill="none" stroke-width="0.9" />
<text x="84.80" y="507.60" font-size="6.6" text-anchor="start" fill="#3a3a3a" font-weight="normal" >n</text>
<text x="340.60" y="26.00" font-size="11.5" text-anchor="start" fill="#000" font-weight="bold" >d</text>
<polyline points="396.20,44.30 406.70,50.80 417.70,44.30 427.70,50.80" stroke="#3a3a3a" fill="none" stroke-width="0.9" />
<line x1="417.70" y1="44.30" x2="417.70" y2="31.90" stroke="#3a3a3a" stroke-width="0.9" />
<polyline points="405.30,30.30 403.50,30.30 403.50,54.00 405.30,54.00" stroke="#3a3a3a" fill="none" stroke-width="0.9" />
<polyline points="423.30,30.30 425.10,30.30 425.10,54.00 423.30,54.00" stroke="#3a3a3a" fill="none" stroke-width="0.9" />
<text x="426.10" y="56.90" font-size="6.6" text-anchor="start" fill="#3a3a3a" font-weight="normal" >n</text>
<line x1="397.60" y1="182.40" x2="636.70" y2="31.40" stroke="#7f7f7f" stroke-width="2.0" stroke-dasharray="7,3.5"/>
<ellipse cx="447.4" cy="146.2" rx="48.9" ry="1.45" transform="rotate(-34.1 447.4 146.2)" fill="none" stroke="#d62728" stroke-width="1.35"/>
<ellipse cx="549.0" cy="97.2" rx="73.6" ry="1.65" transform="rotate(-33.8 549.0 97.2)" fill="none" stroke="#8c564b" stroke-width="1.35"/>
<ellipse cx="495.4" cy="133.2" rx="65.8" ry="1.4" transform="rotate(-33.8 495.4 133.2)" fill="none" stroke="#2ca02c" stroke-width="1.35"/>
<ellipse cx="528.6" cy="102.0" rx="40.5" ry="1.25" transform="rotate(-34.2 528.6 102.0)" fill="none" stroke="#9467bd" stroke-width="1.35"/>
<ellipse cx="508.7" cy="105.8" rx="51.0" ry="1.35" transform="rotate(-34.0 508.7 105.8)" fill="none" stroke="#ff7f0e" stroke-width="1.35"/>
<ellipse cx="553.5" cy="76.7" rx="75.0" ry="1.25" transform="rotate(-34.5 553.5 76.7)" fill="none" stroke="#e377c2" stroke-width="1.35"/>
<ellipse cx="540.2" cy="83.2" rx="47.0" ry="1.3" transform="rotate(-34.5 540.2 83.2)" fill="none" stroke="#1f77b4" stroke-width="1.35"/>
<circle cx="447.40" cy="146.20" r="2.6" fill="#d62728" />
<circle cx="549.00" cy="97.20" r="2.6" fill="#8c564b" />
<circle cx="495.40" cy="133.20" r="2.6" fill="#2ca02c" />
<circle cx="528.60" cy="102.00" r="2.6" fill="#9467bd" />
<circle cx="508.70" cy="105.80" r="2.6" fill="#ff7f0e" />
<circle cx="553.50" cy="76.70" r="2.6" fill="#e377c2" />
<circle cx="540.20" cy="83.20" r="2.6" fill="#1f77b4" />
<rect x="386.0" y="23.3" width="261.20000000000005" height="167.0" fill="none" stroke="#111" stroke-width="1.3"/>
<line x1="382.00" y1="188.80" x2="386.00" y2="188.80" stroke="#222" stroke-width="1" />
<text x="378.00" y="191.90" font-size="9.0" text-anchor="end" fill="#1a1a1a" font-weight="normal" >12</text>
<line x1="382.00" y1="161.20" x2="386.00" y2="161.20" stroke="#222" stroke-width="1" />
<text x="378.00" y="164.30" font-size="9.0" text-anchor="end" fill="#1a1a1a" font-weight="normal" >14</text>
<line x1="382.00" y1="133.60" x2="386.00" y2="133.60" stroke="#222" stroke-width="1" />
<text x="378.00" y="136.70" font-size="9.0" text-anchor="end" fill="#1a1a1a" font-weight="normal" >16</text>
<line x1="382.00" y1="106.00" x2="386.00" y2="106.00" stroke="#222" stroke-width="1" />
<text x="378.00" y="109.10" font-size="9.0" text-anchor="end" fill="#1a1a1a" font-weight="normal" >18</text>
<line x1="382.00" y1="78.40" x2="386.00" y2="78.40" stroke="#222" stroke-width="1" />
<text x="378.00" y="81.50" font-size="9.0" text-anchor="end" fill="#1a1a1a" font-weight="normal" >20</text>
<line x1="382.00" y1="50.80" x2="386.00" y2="50.80" stroke="#222" stroke-width="1" />
<text x="378.00" y="53.90" font-size="9.0" text-anchor="end" fill="#1a1a1a" font-weight="normal" >22</text>
<line x1="397.90" y1="190.30" x2="397.90" y2="194.30" stroke="#222" stroke-width="1" />
<text x="397.90" y="206.00" font-size="9.0" text-anchor="middle" fill="#1a1a1a" font-weight="normal" >70</text>
<line x1="445.50" y1="190.30" x2="445.50" y2="194.30" stroke="#222" stroke-width="1" />
<text x="445.50" y="206.00" font-size="9.0" text-anchor="middle" fill="#1a1a1a" font-weight="normal" >80</text>
<line x1="493.10" y1="190.30" x2="493.10" y2="194.30" stroke="#222" stroke-width="1" />
<text x="493.10" y="206.00" font-size="9.0" text-anchor="middle" fill="#1a1a1a" font-weight="normal" >90</text>
<line x1="540.70" y1="190.30" x2="540.70" y2="194.30" stroke="#222" stroke-width="1" />
<text x="540.70" y="206.00" font-size="9.0" text-anchor="middle" fill="#1a1a1a" font-weight="normal" >100</text>
<line x1="588.30" y1="190.30" x2="588.30" y2="194.30" stroke="#222" stroke-width="1" />
<text x="588.30" y="206.00" font-size="9.0" text-anchor="middle" fill="#1a1a1a" font-weight="normal" >110</text>
<line x1="635.90" y1="190.30" x2="635.90" y2="194.30" stroke="#222" stroke-width="1" />
<text x="635.90" y="206.00" font-size="9.0" text-anchor="middle" fill="#1a1a1a" font-weight="normal" >120</text>
<text x="516.00" y="219.50" font-size="8.8" text-anchor="middle" fill="#1a1a1a" font-weight="normal" ><tspan font-style="italic">E</tspan><tspan font-size="6" dy="1.8" font-style="italic">a</tspan><tspan dy="-1.8"> (kJ/mol)</tspan></text>
<text x="0.00" y="0.00" font-size="8.8" text-anchor="middle" fill="#1a1a1a" font-weight="normal" transform="translate(361.4,102) rotate(-90)">ln(<tspan font-style="italic">A</tspan>)</text>
<text x="533.30" y="66.00" font-size="9.4" fill="#e377c2" text-anchor="start">ZY<tspan font-size="6.77" dx="0.4" dy="1.03">35st</tspan></text>
<text x="517.80" y="78.40" font-size="9.4" fill="#1f77b4" text-anchor="start">ZY<tspan font-size="6.77" dx="0.4" dy="1.03">14</tspan></text>
<text x="483.50" y="102.90" font-size="9.4" fill="#ff7f0e" text-anchor="start">ZY<tspan font-size="6.77" dx="0.4" dy="1.03">36</tspan></text>
<text x="551.20" y="107.60" font-size="9.4" fill="#8c564b" text-anchor="start">ZY<tspan font-size="6.77" dx="0.4" dy="1.03">5</tspan></text>
<text x="536.00" y="118.20" font-size="9.4" fill="#9467bd" text-anchor="start">ZY<tspan font-size="6.77" dx="0.4" dy="1.03">56</tspan></text>
<text x="425.10" y="143.50" font-size="9.4" fill="#d62728" text-anchor="start">ZY<tspan font-size="6.77" dx="0.4" dy="1.03">55</tspan></text>
<text x="499.20" y="144.40" font-size="9.4" fill="#2ca02c" text-anchor="start">ZY<tspan font-size="6.77" dx="0.4" dy="1.03">47</tspan></text>
<text x="503.90" y="160.60" font-size="9.0" text-anchor="start" fill="#1a1a1a" font-weight="normal" >1/(slope · <tspan font-style="italic">R</tspan>) = 547±92 K</text>
<text x="340.60" y="249.90" font-size="11.5" text-anchor="start" fill="#000" font-weight="bold" >e</text>
<polyline points="395.20,273.50 406.40,267.20 417.70,273.50 428.50,267.20 439.70,273.50" stroke="#3a3a3a" fill="none" stroke-width="0.9" />
<line x1="406.40" y1="267.20" x2="406.40" y2="254.10" stroke="#3a3a3a" stroke-width="0.9" />
<line x1="428.50" y1="267.20" x2="428.50" y2="254.10" stroke="#3a3a3a" stroke-width="0.9" />
<line x1="395.30" y1="412.80" x2="639.00" y2="256.80" stroke="#7f7f7f" stroke-width="2.0" stroke-dasharray="7,3.5"/>
<line x1="411.70" y1="411.30" x2="460.10" y2="380.10" stroke="#d62728" stroke-width="1.8" />
<circle cx="435.80" cy="395.40" r="2.3" fill="#d62728" />
<line x1="462.80" y1="377.40" x2="505.10" y2="350.00" stroke="#9467bd" stroke-width="1.8" />
<circle cx="484.20" cy="363.30" r="2.3" fill="#9467bd" />
<line x1="498.10" y1="341.90" x2="506.30" y2="336.50" stroke="#e377c2" stroke-width="1.8" />
<circle cx="502.20" cy="339.20" r="2.3" fill="#e377c2" />
<line x1="553.30" y1="303.50" x2="592.70" y2="278.50" stroke="#ff7f0e" stroke-width="1.8" />
<circle cx="573.10" cy="291.40" r="2.3" fill="#ff7f0e" />
<line x1="558.40" y1="314.70" x2="599.00" y2="289.10" stroke="#2ca02c" stroke-width="1.8" />
<circle cx="578.70" cy="301.90" r="2.3" fill="#2ca02c" />
<line x1="593.90" y1="292.10" x2="607.90" y2="282.70" stroke="#8c564b" stroke-width="1.8" />
<circle cx="600.90" cy="287.40" r="2.3" fill="#8c564b" />
<circle cx="490.00" cy="336.50" r="2.4" fill="#1f77b4" />
<rect x="383.3" y="249.6" width="268.09999999999997" height="169.9" fill="none" stroke="#111" stroke-width="1.3"/>
<line x1="379.30" y1="398.14" x2="383.30" y2="398.14" stroke="#222" stroke-width="1" />
<text x="374.80" y="401.24" font-size="9.0" text-anchor="end" fill="#1a1a1a" font-weight="normal" >−2</text>
<line x1="379.30" y1="364.40" x2="383.30" y2="364.40" stroke="#222" stroke-width="1" />
<text x="374.80" y="367.50" font-size="9.0" text-anchor="end" fill="#1a1a1a" font-weight="normal" >0</text>
<line x1="379.30" y1="330.66" x2="383.30" y2="330.66" stroke="#222" stroke-width="1" />
<text x="374.80" y="333.76" font-size="9.0" text-anchor="end" fill="#1a1a1a" font-weight="normal" >2</text>
<line x1="379.30" y1="296.92" x2="383.30" y2="296.92" stroke="#222" stroke-width="1" />
<text x="374.80" y="300.02" font-size="9.0" text-anchor="end" fill="#1a1a1a" font-weight="normal" >4</text>
<line x1="379.30" y1="263.18" x2="383.30" y2="263.18" stroke="#222" stroke-width="1" />
<text x="374.80" y="266.28" font-size="9.0" text-anchor="end" fill="#1a1a1a" font-weight="normal" >6</text>
<line x1="395.70" y1="419.50" x2="395.70" y2="423.50" stroke="#222" stroke-width="1" />
<text x="395.70" y="435.10" font-size="9.0" text-anchor="middle" fill="#1a1a1a" font-weight="normal" >130</text>
<line x1="435.90" y1="419.50" x2="435.90" y2="423.50" stroke="#222" stroke-width="1" />
<text x="435.90" y="435.10" font-size="9.0" text-anchor="middle" fill="#1a1a1a" font-weight="normal" >140</text>
<line x1="476.10" y1="419.50" x2="476.10" y2="423.50" stroke="#222" stroke-width="1" />
<text x="476.10" y="435.10" font-size="9.0" text-anchor="middle" fill="#1a1a1a" font-weight="normal" >150</text>
<line x1="516.30" y1="419.50" x2="516.30" y2="423.50" stroke="#222" stroke-width="1" />
<text x="516.30" y="435.10" font-size="9.0" text-anchor="middle" fill="#1a1a1a" font-weight="normal" >160</text>
<line x1="556.50" y1="419.50" x2="556.50" y2="423.50" stroke="#222" stroke-width="1" />
<text x="556.50" y="435.10" font-size="9.0" text-anchor="middle" fill="#1a1a1a" font-weight="normal" >170</text>
<line x1="596.70" y1="419.50" x2="596.70" y2="423.50" stroke="#222" stroke-width="1" />
<text x="596.70" y="435.10" font-size="9.0" text-anchor="middle" fill="#1a1a1a" font-weight="normal" >180</text>
<line x1="636.90" y1="419.50" x2="636.90" y2="423.50" stroke="#222" stroke-width="1" />
<text x="636.90" y="435.10" font-size="9.0" text-anchor="middle" fill="#1a1a1a" font-weight="normal" >190</text>
<text x="516.00" y="450.50" font-size="8.8" text-anchor="middle" fill="#1a1a1a" font-weight="normal" ><tspan font-style="italic">E</tspan><tspan font-size="6" dy="1.8" font-style="italic">a</tspan><tspan dy="-1.8"> (kJ/mol)</tspan></text>
<text x="0.00" y="0.00" font-size="8.8" text-anchor="middle" fill="#1a1a1a" font-weight="normal" transform="translate(357.6,334.8) rotate(-90)">ln(<tspan font-style="italic">A</tspan>)</text>
<text x="547.40" y="290.00" font-size="9.4" fill="#ff7f0e" text-anchor="start">ZY<tspan font-size="6.77" dx="0.4" dy="1.03">36</tspan></text>
<text x="605.10" y="297.50" font-size="9.4" fill="#8c564b" text-anchor="start">ZY<tspan font-size="6.77" dx="0.4" dy="1.03">5</tspan></text>
<text x="581.30" y="313.40" font-size="9.4" fill="#2ca02c" text-anchor="start">ZY<tspan font-size="6.77" dx="0.4" dy="1.03">47</tspan></text>
<text x="509.80" y="349.60" font-size="9.4" fill="#e377c2" text-anchor="start">ZY<tspan font-size="6.77" dx="0.4" dy="1.03">35st</tspan></text>
<text x="487.30" y="372.00" font-size="9.4" fill="#9467bd" text-anchor="start">ZY<tspan font-size="6.77" dx="0.4" dy="1.03">56</tspan></text>
<text x="439.30" y="404.80" font-size="9.4" fill="#d62728" text-anchor="start">ZY<tspan font-size="6.77" dx="0.4" dy="1.03">55</tspan></text>
<text x="464.50" y="335.80" font-size="9.4" fill="#1f77b4" text-anchor="start">ZY<tspan font-size="6.77" dx="0.4" dy="1.03">14</tspan></text>
<text x="503.60" y="390.30" font-size="9.0" text-anchor="start" fill="#1a1a1a" font-weight="normal" >1/(slope · <tspan font-style="italic">R</tspan>) = 781±86 K</text>
<text x="340.60" y="466.20" font-size="11.5" text-anchor="start" fill="#000" font-weight="bold" >f</text>
<polyline points="396.20,495.30 406.70,501.80 417.70,495.30 427.70,501.80" stroke="#3a3a3a" fill="none" stroke-width="0.9" />
<line x1="417.70" y1="495.30" x2="417.70" y2="482.90" stroke="#3a3a3a" stroke-width="0.9" />
<polyline points="405.30,481.30 403.50,481.30 403.50,505.00 405.30,505.00" stroke="#3a3a3a" fill="none" stroke-width="0.9" />
<polyline points="423.30,481.30 425.10,481.30 425.10,505.00 423.30,505.00" stroke="#3a3a3a" fill="none" stroke-width="0.9" />
<text x="426.10" y="507.90" font-size="6.6" text-anchor="start" fill="#3a3a3a" font-weight="normal" >n</text>
<line x1="466.30" y1="479.90" x2="466.30" y2="492.80" stroke="#1f77b4" stroke-width="1.5" />
<line x1="462.70" y1="479.90" x2="469.90" y2="479.90" stroke="#1f77b4" stroke-width="1.5" />
<line x1="462.70" y1="492.80" x2="469.90" y2="492.80" stroke="#1f77b4" stroke-width="1.5" />
<line x1="463.70" y1="483.50" x2="468.90" y2="488.70" stroke="#1f77b4" stroke-width="1.5" />
<line x1="463.70" y1="488.70" x2="468.90" y2="483.50" stroke="#1f77b4" stroke-width="1.5" />
<text x="473.00" y="491.50" font-size="9.4" fill="#1f77b4" text-anchor="start">ZY<tspan font-size="6.77" dx="0.4" dy="1.03">14</tspan></text>
<line x1="472.40" y1="537.80" x2="472.40" y2="552.50" stroke="#ff7f0e" stroke-width="1.5" />
<line x1="468.80" y1="537.80" x2="476.00" y2="537.80" stroke="#ff7f0e" stroke-width="1.5" />
<line x1="468.80" y1="552.50" x2="476.00" y2="552.50" stroke="#ff7f0e" stroke-width="1.5" />
<line x1="469.80" y1="542.40" x2="475.00" y2="547.60" stroke="#ff7f0e" stroke-width="1.5" />
<line x1="469.80" y1="547.60" x2="475.00" y2="542.40" stroke="#ff7f0e" stroke-width="1.5" />
<text x="479.10" y="554.80" font-size="9.4" fill="#ff7f0e" text-anchor="start">ZY<tspan font-size="6.77" dx="0.4" dy="1.03">36</tspan></text>
<line x1="610.60" y1="536.20" x2="610.60" y2="554.90" stroke="#8c564b" stroke-width="1.5" />
<line x1="607.00" y1="536.20" x2="614.20" y2="536.20" stroke="#8c564b" stroke-width="1.5" />
<line x1="607.00" y1="554.90" x2="614.20" y2="554.90" stroke="#8c564b" stroke-width="1.5" />
<line x1="608.00" y1="542.50" x2="613.20" y2="547.70" stroke="#8c564b" stroke-width="1.5" />
<line x1="608.00" y1="547.70" x2="613.20" y2="542.50" stroke="#8c564b" stroke-width="1.5" />
<text x="617.80" y="555.60" font-size="9.4" fill="#8c564b" text-anchor="start">ZY<tspan font-size="6.77" dx="0.4" dy="1.03">5</tspan></text>
<line x1="410.20" y1="550.40" x2="410.20" y2="562.70" stroke="#d62728" stroke-width="1.5" />
<line x1="406.60" y1="550.40" x2="413.80" y2="550.40" stroke="#d62728" stroke-width="1.5" />
<line x1="406.60" y1="562.70" x2="413.80" y2="562.70" stroke="#d62728" stroke-width="1.5" />
<line x1="407.60" y1="554.00" x2="412.80" y2="559.20" stroke="#d62728" stroke-width="1.5" />
<line x1="407.60" y1="559.20" x2="412.80" y2="554.00" stroke="#d62728" stroke-width="1.5" />
<text x="417.40" y="564.00" font-size="9.4" fill="#d62728" text-anchor="start">ZY<tspan font-size="6.77" dx="0.4" dy="1.03">55</tspan></text>
<line x1="409.60" y1="569.90" x2="409.60" y2="581.50" stroke="#9467bd" stroke-width="1.5" />
<line x1="406.00" y1="569.90" x2="413.20" y2="569.90" stroke="#9467bd" stroke-width="1.5" />
<line x1="406.00" y1="581.50" x2="413.20" y2="581.50" stroke="#9467bd" stroke-width="1.5" />
<line x1="407.00" y1="573.10" x2="412.20" y2="578.30" stroke="#9467bd" stroke-width="1.5" />
<line x1="407.00" y1="578.30" x2="412.20" y2="573.10" stroke="#9467bd" stroke-width="1.5" />
<text x="416.80" y="586.40" font-size="9.4" fill="#9467bd" text-anchor="start">ZY<tspan font-size="6.77" dx="0.4" dy="1.03">56</tspan></text>
<line x1="420.90" y1="597.00" x2="420.90" y2="613.40" stroke="#e377c2" stroke-width="1.5" />
<line x1="417.30" y1="597.00" x2="424.50" y2="597.00" stroke="#e377c2" stroke-width="1.5" />
<line x1="417.30" y1="613.40" x2="424.50" y2="613.40" stroke="#e377c2" stroke-width="1.5" />
<line x1="418.30" y1="602.60" x2="423.50" y2="607.80" stroke="#e377c2" stroke-width="1.5" />
<line x1="418.30" y1="607.80" x2="423.50" y2="602.60" stroke="#e377c2" stroke-width="1.5" />
<text x="429.00" y="614.00" font-size="9.4" fill="#e377c2" text-anchor="start">ZY<tspan font-size="6.77" dx="0.4" dy="1.03">35st</tspan></text>
<line x1="414.70" y1="629.50" x2="414.70" y2="644.00" stroke="#2ca02c" stroke-width="1.5" />
<line x1="411.10" y1="629.50" x2="418.30" y2="629.50" stroke="#2ca02c" stroke-width="1.5" />
<line x1="411.10" y1="644.00" x2="418.30" y2="644.00" stroke="#2ca02c" stroke-width="1.5" />
<line x1="412.10" y1="634.10" x2="417.30" y2="639.30" stroke="#2ca02c" stroke-width="1.5" />
<line x1="412.10" y1="639.30" x2="417.30" y2="634.10" stroke="#2ca02c" stroke-width="1.5" />
<text x="420.90" y="645.30" font-size="9.4" fill="#2ca02c" text-anchor="start">ZY<tspan font-size="6.77" dx="0.4" dy="1.03">47</tspan></text>
<rect x="384.6" y="471.4" width="262.69999999999993" height="180.60000000000002" fill="none" stroke="#111" stroke-width="1.3"/>
<line x1="380.60" y1="634.82" x2="384.60" y2="634.82" stroke="#222" stroke-width="1" />
<text x="375.60" y="638.42" font-size="10.0" text-anchor="end" fill="#1a1a1a" font-weight="normal" >1.2</text>
<line x1="380.60" y1="612.44" x2="384.60" y2="612.44" stroke="#222" stroke-width="1" />
<text x="375.60" y="616.04" font-size="10.0" text-anchor="end" fill="#1a1a1a" font-weight="normal" >1.4</text>
<line x1="380.60" y1="590.06" x2="384.60" y2="590.06" stroke="#222" stroke-width="1" />
<text x="375.60" y="593.66" font-size="10.0" text-anchor="end" fill="#1a1a1a" font-weight="normal" >1.6</text>
<line x1="380.60" y1="567.68" x2="384.60" y2="567.68" stroke="#222" stroke-width="1" />
<text x="375.60" y="571.28" font-size="10.0" text-anchor="end" fill="#1a1a1a" font-weight="normal" >1.8</text>
<line x1="380.60" y1="545.30" x2="384.60" y2="545.30" stroke="#222" stroke-width="1" />
<text x="375.60" y="548.90" font-size="10.0" text-anchor="end" fill="#1a1a1a" font-weight="normal" >2.0</text>
<line x1="380.60" y1="522.92" x2="384.60" y2="522.92" stroke="#222" stroke-width="1" />
<text x="375.60" y="526.52" font-size="10.0" text-anchor="end" fill="#1a1a1a" font-weight="normal" >2.2</text>
<line x1="380.60" y1="500.54" x2="384.60" y2="500.54" stroke="#222" stroke-width="1" />
<text x="375.60" y="504.14" font-size="10.0" text-anchor="end" fill="#1a1a1a" font-weight="normal" >2.4</text>
<line x1="380.60" y1="478.16" x2="384.60" y2="478.16" stroke="#222" stroke-width="1" />
<text x="375.60" y="481.76" font-size="10.0" text-anchor="end" fill="#1a1a1a" font-weight="normal" >2.6</text>
<line x1="384.60" y1="652.00" x2="384.60" y2="656.00" stroke="#222" stroke-width="1" />
<text x="384.60" y="668.20" font-size="9.6" text-anchor="middle" fill="#1a1a1a" font-weight="normal" >0.3</text>
<line x1="506.69" y1="652.00" x2="506.69" y2="656.00" stroke="#222" stroke-width="1" />
<text x="506.69" y="668.20" font-size="9.6" text-anchor="middle" fill="#1a1a1a" font-weight="normal" >1.0</text>
<line x1="647.27" y1="652.00" x2="647.27" y2="656.00" stroke="#222" stroke-width="1" />
<text x="647.27" y="668.20" font-size="9.6" text-anchor="middle" fill="#1a1a1a" font-weight="normal" >4.0</text>
<line x1="413.77" y1="652.00" x2="413.77" y2="654.20" stroke="#222" stroke-width="0.8" />
<line x1="436.40" y1="652.00" x2="436.40" y2="654.20" stroke="#222" stroke-width="0.8" />
<line x1="454.89" y1="652.00" x2="454.89" y2="654.20" stroke="#222" stroke-width="0.8" />
<line x1="470.52" y1="652.00" x2="470.52" y2="654.20" stroke="#222" stroke-width="0.8" />
<line x1="484.06" y1="652.00" x2="484.06" y2="654.20" stroke="#222" stroke-width="0.8" />
<line x1="496.01" y1="652.00" x2="496.01" y2="654.20" stroke="#222" stroke-width="0.8" />
<line x1="576.98" y1="652.00" x2="576.98" y2="654.20" stroke="#222" stroke-width="0.8" />
<line x1="618.10" y1="652.00" x2="618.10" y2="654.20" stroke="#222" stroke-width="0.8" />
<text x="516.00" y="682.20" font-size="9.25" text-anchor="middle" fill="#1a1a1a" font-weight="normal" >Framework aluminium content (mmol/g)</text>
<text x="0.00" y="0.00" font-size="9.5" text-anchor="middle" fill="#1a1a1a" font-weight="normal" transform="translate(355.3,561.9) rotate(-90)">Order in [C], <tspan font-style="italic">n</tspan></text>
</svg></body></html>
